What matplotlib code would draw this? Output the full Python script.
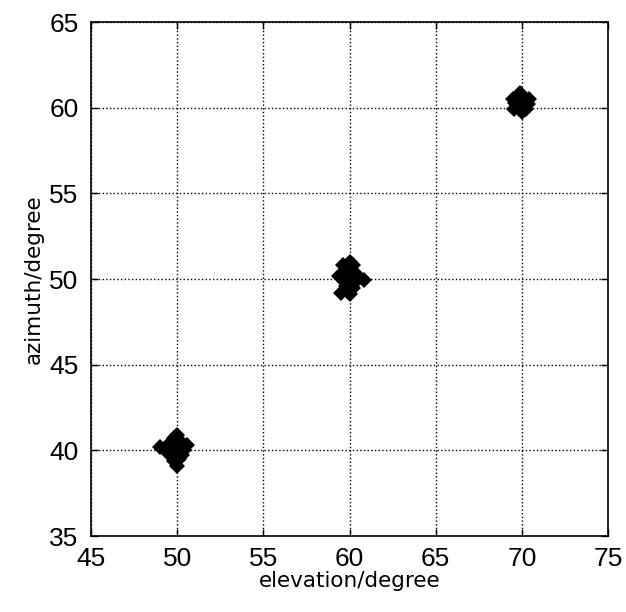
import matplotlib
matplotlib.use("Agg")
import matplotlib.pyplot as plt

# Estimated (elevation, azimuth) points for each cluster
elev_a = [50.0, 50.55, 50.3, 50.0, 49.0, 49.5, 50.0, 49.6, 50.2, 49.8, 50.4, 49.3, 50.1, 49.8, 50.25]
azim_a = [40.9, 40.3, 39.7, 39.1, 40.2, 39.8, 40.0, 40.4, 40.5, 39.4, 40.0, 40.1, 39.5, 40.7, 40.15]
elev_b = [60.0, 59.6, 60.2, 60.85, 59.4, 59.5, 60.0, 60.2, 60.0, 59.8, 60.4, 59.8, 60.4, 59.7, 60.1, 59.9]
azim_b = [51.0, 50.8, 50.8, 49.95, 50.2, 49.2, 49.1, 49.5, 50.0, 50.4, 50.3, 49.6, 49.9, 49.9, 50.6, 49.3]
elev_c = [69.9, 69.5, 70.4, 70.25, 70.0, 69.55, 70.0, 69.7, 70.2, 69.9, 70.1, 70.35, 69.6]
azim_c = [60.85, 60.5, 60.5, 59.9, 59.75, 59.9, 60.3, 60.1, 60.2, 60.6, 60.0, 60.2, 60.3]

x_ticks = [45, 50, 55, 60, 65, 70, 75]
y_ticks = [35, 40, 45, 50, 55, 60, 65]

tick_font = ["Liberation Sans Narrow", "DejaVu Sans Condensed", "Liberation Sans"]

fig = plt.figure(figsize=(6.26, 6.12), dpi=100)
ax = fig.add_axes([91/626, 1-536/612, 517/626, 514/612])

for ex, az in [(elev_a, azim_a), (elev_b, azim_b), (elev_c, azim_c)]:
    ax.plot(ex, az, linestyle="none", marker="D", markersize=8.5,
            color="black", markeredgewidth=0)

ax.set_xlim(45, 75)
ax.set_ylim(35, 65)
ax.set_xticks(x_ticks)
ax.set_yticks(y_ticks)
ax.grid(True, linestyle=":", color="black", linewidth=1.0)
ax.tick_params(direction="in", top=True, right=True, length=5, width=1)
ax.tick_params(axis="x", pad=8)
ax.tick_params(axis="y", pad=9)
for lab in ax.get_xticklabels() + ax.get_yticklabels():
    lab.set_family(tick_font)
    lab.set_fontsize(19)
for sp in ax.spines.values():
    sp.set_linewidth(1.2)
ax.set_xlabel("elevation/degree", fontsize=15.5, labelpad=0)
ax.set_ylabel("azimuth/degree", fontsize=15.5, labelpad=4)

fig.savefig("out.png", dpi=100)
